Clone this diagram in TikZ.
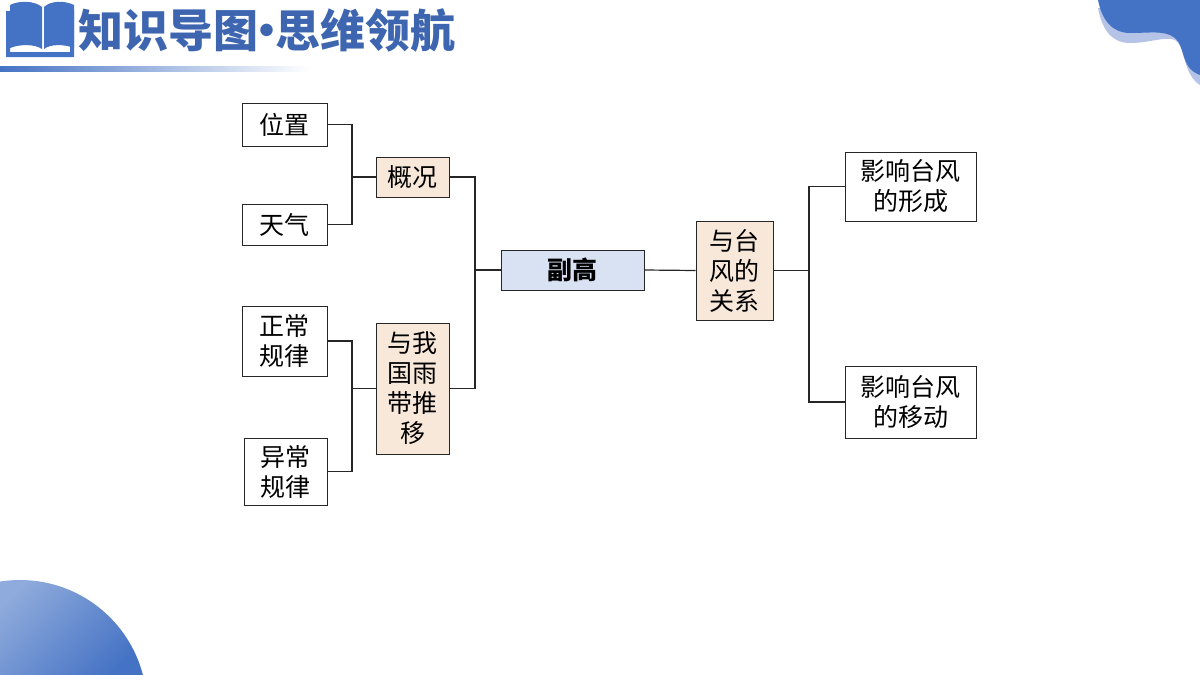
\documentclass[tikz,border=0pt]{standalone}
\usepackage{fontspec}
\setmainfont{Noto Sans CJK SC}
\definecolor{deckblue}{HTML}{4472C4}
\definecolor{decklight}{HTML}{B4C3E6}
\definecolor{titleblue}{HTML}{3E66B0}
\definecolor{peach}{HTML}{F8E8DA}
\definecolor{paleblue}{HTML}{D9E2F3}
\tikzset{
  box/.style={draw=black!85, line width=0.9pt, inner sep=0pt, align=center, font=\fontsize{25}{30}\selectfont},
  topic/.style={box, fill=peach},
  root/.style={box, fill=paleblue, font=\fontsize{25}{30}\selectfont\bfseries},
  e/.style={line width=1.2pt, black!85}
}
\newcommand{\boxat}[6]{\node[#1, minimum width=#4pt, minimum height=#5pt] (#2) at (#3) {#6};}
\begin{document}
\begin{tikzpicture}[x=1pt, y=-1pt]
  \useasboundingbox (0, 0) rectangle (1200, 675);

  % corners
  \begin{scope}
    \clip (0, 0) rectangle (1200, 675);
    \begin{scope}
      \clip (20, 707) circle (127);
      \shade[left color=deckblue!60, right color=deckblue, shading angle=45] (0, 570) rectangle (150, 675);
    \end{scope}
    \fill[decklight] (1098, 8) .. controls (1102, 30) and (1112, 43) .. (1130, 43)
      .. controls (1150, 43) and (1165, 36) .. (1175, 40)
      .. controls (1185, 45) and (1183, 75) .. (1200, 85) -- (1200, 40) -- (1150, 10) -- cycle;
    \fill[deckblue] (1098, 0) .. controls (1102, 20) and (1112, 33) .. (1130, 33)
      .. controls (1150, 33) and (1165, 30) .. (1175, 38)
      .. controls (1186, 47) and (1180, 68) .. (1200, 75) -- (1200, 0) -- cycle;
  \end{scope}

  % header
  \fill[deckblue] (6, 11) -- (10, 11) -- (10, 52) -- (70, 52) -- (70, 11) -- (74, 11) -- (74, 57) -- (6, 57) -- cycle;
  \fill[deckblue] (10, 5) .. controls (20, 0) and (35, 1) .. (42, 7) -- (42, 49)
    .. controls (35, 44) and (20, 44) .. (10, 48) -- cycle;
  \fill[deckblue] (74, 5) .. controls (64, 0) and (50, 1) .. (44, 7) -- (44, 49)
    .. controls (50, 44) and (64, 44) .. (74, 48) -- cycle;
  \shade[left color=deckblue, right color=white] (0, 66) rectangle (310, 71);
  \node[anchor=west, inner sep=0pt, text=titleblue, font=\fontsize{45}{45}\selectfont\bfseries] (title) at (78, 30) {知识导图\kern-14pt·\kern-14pt思维领航};

  % left side
  \boxat{box}{pos}{284.5, 124.5}{85}{43}{位置}
  \boxat{box}{wea}{284.5, 224.5}{85}{41}{天气}
  \boxat{box}{nrm}{284.5, 341}{85}{70}{正常\\规律}
  \boxat{box}{abn}{285.5, 471.5}{83}{67}{异常\\规律}
  \boxat{topic}{gen}{412.5, 177}{73}{40}{概况}
  \boxat{topic}{rain}{412.5, 388.5}{73}{131}{与我\\国雨\\带推\\移}

  % middle and right side
  \boxat{root}{sub}{572.5, 270}{143}{40}{副高}
  \boxat{topic}{typ}{734.5, 270.5}{77}{99}{与台\\风的\\关系}
  \boxat{box}{form}{910.5, 186.5}{131}{69}{影响台风\\的形成}
  \boxat{box}{move}{910.5, 402}{131}{72}{影响台风\\的移动}

  \coordinate (j1) at (352, 177);
  \coordinate (j2) at (352, 388.5);
  \coordinate (j3) at (475, 270);
  \coordinate (j4) at (809, 270.5);

  \draw[e] (pos.east) -| (j1);
  \draw[e] (wea.east) -| (j1);
  \draw[e] (j1) -- (gen.west);
  \draw[e] (nrm.east) -| (j2);
  \draw[e] (abn.east) -| (j2);
  \draw[e] (j2) -- (rain.west);
  \draw[e] (gen.east) -| (j3);
  \draw[e] (rain.east) -| (j3);
  \draw[e] (j3) -- (sub.west);
  \draw[e] (sub.east) -- (typ.west);
  \draw[e] (typ.east) -- (j4);
  \draw[e] (form.west) -| (j4);
  \draw[e] (move.west) -| (j4);
\end{tikzpicture}
\end{document}
